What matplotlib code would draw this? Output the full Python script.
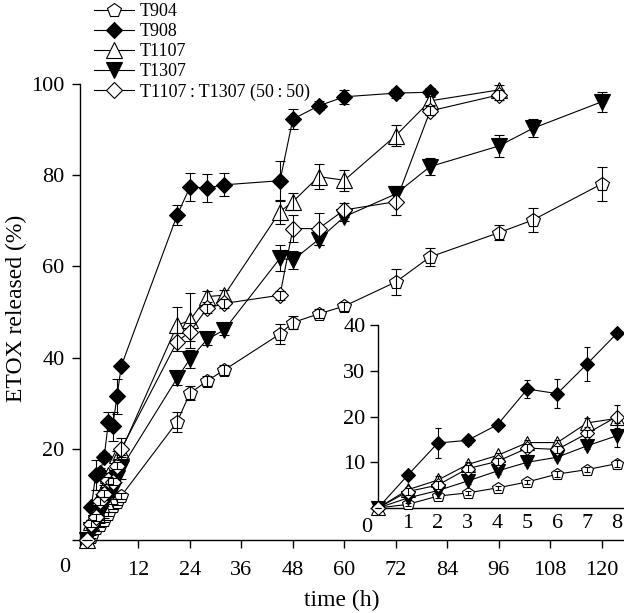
import matplotlib
matplotlib.use('Agg')
import matplotlib.pyplot as plt

plt.rcParams['font.family'] = ['Liberation Serif', 'DejaVu Serif']

# ---------------- data ----------------
times = [0, 1, 2, 3, 4, 5, 6, 7, 8, 21, 24, 28, 32, 45, 48, 54, 60, 72, 80, 96, 104, 120]

t904 = [0, 0.8, 2.6, 3.3, 4.4, 5.7, 7.4, 8.4, 9.7, 25.9, 32.2, 34.9, 37.3, 45.2, 47.7, 49.6,
        51.3, 56.6, 62.1, 67.4, 70.2, 78.1]
t904_err = [0, 0.3, 0.5, 0.5, 0.5, 0.5, 0.6, 0.6, 0.7, 2.2, 1.5, 1.0, 1.0, 2.2, 1.5, 1.0,
            1.0, 2.9, 2.0, 1.7, 2.6, 3.7]

t908 = [0, 7.2, 14.2, 14.8, 18.2, 26.0, 25.0, 31.5, 38.2, 71.2, 77.4, 77.2, 77.9, 78.8, 92.3,
        95.2, 97.2, 98.0, 98.2]
t908_err = [0, 0.6, 3.3, 1.0, 0.8, 2.0, 3.2, 3.8, 0.6, 2.2, 3.1, 3.1, 2.5, 4.4, 2.2,
            1.0, 1.5, 1.0, 1.0]

t1107 = [0, 4.0, 6.1, 9.5, 11.5, 14.3, 14.3, 18.6, 19.6, 47.1, 48.2, 53.4, 53.7, 72.0, 74.2,
         79.7, 78.9, 88.7, 96.3, 98.7]
t1107_err = [0, 0.5, 1.0, 0.6, 0.6, 0.5, 0.6, 1.0, 1.0, 4.0, 6.0, 1.2, 1.2, 2.6, 1.8,
             2.8, 2.3, 2.3, 1.0, 1.0]

t1307 = [0, 2.2, 3.8, 5.9, 8.1, 10.0, 11.1, 13.6, 15.8, 35.5, 39.7, 44.0, 46.1, 61.8, 61.4,
         65.9, 70.9, 75.9, 81.9, 86.4, 90.3, 96.1]
t1307_err = [0, 0.4, 0.6, 0.6, 0.6, 0.6, 0.6, 0.8, 2.4, 1.5, 2.0, 1.2, 1.2, 2.9, 2.0,
             1.2, 1.0, 1.8, 1.8, 2.5, 2.0, 2.2]

blend = [0, 3.6, 5.0, 8.6, 10.2, 13.1, 12.8, 16.3, 20.0, 43.5, 45.7, 50.8, 51.9, 53.7, 68.3,
         68.3, 72.4, 74.2, 94.1, 97.6]
blend_err = [0, 0.8, 0.8, 0.8, 0.8, 0.8, 0.8, 0.8, 2.5, 2.0, 2.0, 1.0, 1.0, 1.0, 3.0,
             3.5, 1.5, 2.9, 1.0, 1.0]

labels = ['T904', 'T908', 'T1107', 'T1307', 'T1107\u2009:\u2009T1307 (50\u2009:\u200950)']
xticks_main = [0, 12, 24, 36, 48, 60, 72, 84, 96, 108, 120]
yticks_main = [0, 20, 40, 60, 80, 100]
xticks_inset = [0, 1, 2, 3, 4, 5, 6, 7, 8]
yticks_inset = [0, 10, 20, 30, 40]

series = [
    (t904, t904_err, dict(marker='p', mfc='white', ms=10.5)),
    (t908, t908_err, dict(marker='D', mfc='black', ms=7.8)),
    (t1107, t1107_err, dict(marker='^', mfc='white', ms=11.5)),
    (t1307, t1307_err, dict(marker='v', mfc='black', ms=11)),
    (blend, blend_err, dict(marker='D', mfc='white', ms=7.8)),
]

# ---------------- figure ----------------
W, H = 624, 613
fig = plt.figure(figsize=(W / 100, H / 100), dpi=100)


def fx(px):
    return px / W


def fy(py):
    return 1 - py / H


FS = 16

ax = fig.add_axes([fx(80), fy(547), (624 - 80) / W, (547 - 84) / H])
ax.set_xlim(-1.63, 125.2)
ax.set_ylim(-1.5, 100)

ins = fig.add_axes([fx(378), fy(508), (623 - 378) / W, (508 - 325) / H])
ins.set_xlim(0, 8.2)
ins.set_ylim(0, 40)
ins.patch.set_alpha(0)

handles = []
for i, (vals, errs, st) in enumerate(series):
    n = len(vals)
    tt = times[:n]
    h, = ax.plot(tt, vals, color='black', lw=0.8, mec='black', mew=0.8,
                 zorder=3 + i, clip_on=False, **st)
    ax.errorbar(tt, vals, yerr=errs, fmt='none', ecolor='black', elinewidth=0.8,
                capsize=3.5, capthick=0.8, zorder=3.5 + i, clip_on=False)
    handles.append(h)
    st_in = dict(st)
    st_in['ms'] = st['ms'] * 0.88
    ins.plot(tt[:9], vals[:9], color='black', lw=0.8, mec='black', mew=0.8,
             zorder=3 + i, clip_on=False, **st_in)
    ins.errorbar(tt[:9], vals[:9], yerr=errs[:9], fmt='none', ecolor='black',
                 elinewidth=0.8, capsize=2.5, capthick=0.8, zorder=3.5 + i, clip_on=False)

for a in (ax, ins):
    for s in ('top', 'right'):
        a.spines[s].set_visible(False)
    for s in ('left', 'bottom'):
        a.spines[s].set_linewidth(1.0)
    a.tick_params(direction='out', length=6, width=1.0, labelsize=FS, pad=5)

ax.spines['bottom'].set_position(('data', 0))
ax.set_xticks(xticks_main)
ax.set_xticklabels(['' if v == 0 else str(v) for v in xticks_main])
ax.set_yticks(yticks_main)
ax.set_yticklabels(['' if v == 0 else str(v) for v in yticks_main])
ax.tick_params(axis='x', pad=9)

ins.set_xticks(xticks_inset)
ins.set_xticklabels(['' if v == 0 else str(v) for v in xticks_inset])
ins.set_yticks(yticks_inset)
ins.set_yticklabels(['' if v == 0 else str(v) for v in yticks_inset])
ins.tick_params(axis='x', length=0, pad=4)
ins.tick_params(axis='y', length=6, pad=3)

# shared origin labels
fig.text(fx(65), fy(568), '0', ha='center', va='center', fontsize=FS)
fig.text(fx(367), fy(527), '0', ha='center', va='center', fontsize=FS)

fig.text(fx(342), fy(600), 'time (h)', ha='center', va='center', fontsize=17)
fig.text(fx(16), fy(308), 'ETOX released (%)', ha='center', va='center',
         rotation=90, fontsize=17)

fig.legend(handles, labels, loc='upper left', bbox_to_anchor=(fx(94), fy(3)),
           frameon=False, fontsize=13, handlelength=2.2, handletextpad=0.35,
           labelspacing=0.17, borderpad=0, borderaxespad=0)

fig.savefig('out.png', dpi=100)
